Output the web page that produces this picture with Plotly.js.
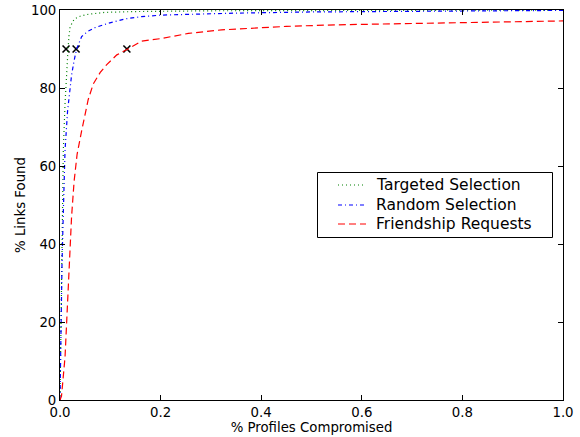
<!DOCTYPE html>
<html>
<head>
<meta charset="utf-8">
<script src="https://cdn.plot.ly/plotly-3.0.1.min.js"></script>
<style>html,body{margin:0;padding:0;background:#fff;}</style>
</head>
<body>
<div id="chart" style="width:580px;height:437px;"></div>
<script>
// Series names
const seriesNames = ["Targeted Selection", "Random Selection", "Friendship Requests"];

// Targeted Selection (green, dotted)
const targetedX = [0, 0.002, 0.004, 0.0066, 0.010, 0.013, 0.016, 0.018, 0.020, 0.025, 0.030, 0.040, 0.056, 0.09, 0.15, 0.3, 0.6, 1.0];
const targetedY = [0, 25, 45, 64, 76, 85, 90, 93.5, 95.5, 97, 97.8, 98.4, 98.9, 99.4, 99.6, 99.8, 99.9, 100];

// Random Selection (blue, dash-dot)
const randomX = [0, 0.002, 0.004, 0.007, 0.010, 0.015, 0.020, 0.023, 0.028, 0.033, 0.043, 0.055, 0.07, 0.096, 0.129, 0.162, 0.202, 0.255, 0.35, 0.5, 0.7, 1.0];
const randomY = [0, 20, 35, 50, 64, 74, 80, 83.3, 87, 90, 93.2, 94.5, 95.5, 96.6, 97.7, 98.3, 98.7, 98.9, 99.2, 99.5, 99.7, 99.9];

// Friendship Requests (red, dashed)
const friendX = [0, 0.003, 0.010, 0.0146, 0.018, 0.023, 0.028, 0.034, 0.043, 0.056, 0.066, 0.080, 0.093, 0.113, 0.135, 0.162, 0.202, 0.255, 0.321, 0.374, 0.45, 0.55, 0.68, 0.85, 1.0];
const friendY = [0, 1, 11, 25, 36, 47, 56, 63, 69, 77, 81, 84, 86, 88.5, 90, 92, 92.7, 94, 94.9, 95.3, 95.8, 96.2, 96.5, 96.9, 97.2];

// 90% markers
const markerX = [0.012, 0.032, 0.133];
const markerY = [90, 90, 90];

// Tick labels
const xTicks = [0, 0.2, 0.4, 0.6, 0.8, 1.0];
const xTickText = ["0.0", "0.2", "0.4", "0.6", "0.8", "1.0"];
const yTicks = [0, 20, 40, 60, 80, 100];
const yTickText = ["0", "20", "40", "60", "80", "100"];

const colors = ["#008000", "#0000ff", "#ff0000"];
const dashes = ["1px,3px", "4px,3px,1px,3px", "7px,4px"];
const FONT = "DejaVu Sans, sans-serif";

const traces = [
  {x: markerX, y: markerY, mode: "markers", showlegend: false, hoverinfo: "skip",
   marker: {symbol: "x-thin", size: 7, color: "#000", line: {color: "#000", width: 1.6}}},
  {x: targetedX, y: targetedY, mode: "lines", name: seriesNames[0],
   line: {color: colors[0], width: 1.2, dash: dashes[0]}},
  {x: randomX, y: randomY, mode: "lines", name: seriesNames[1],
   line: {color: colors[1], width: 1.2, dash: dashes[1]}},
  {x: friendX, y: friendY, mode: "lines", name: seriesNames[2],
   line: {color: colors[2], width: 1.2, dash: dashes[2]}}
];

// Manual legend in pixel terms of the plot area (60..563 x 10..400)
const L = 60, R = 563, T = 10, B = 400;
const px = v => (v - L) / (R - L);
const py = v => (B - v) / (B - T);
const shapes = [
  {type: "rect", xref: "paper", yref: "paper", x0: px(317.5), x1: px(552.5), y0: py(237.5), y1: py(172.5),
   line: {color: "#000", width: 1}, fillcolor: "#fff", layer: "above"}
];
const annotations = [];
const rowY = [185, 205, 224];
for (let i = 0; i < 3; i++) {
  shapes.push({type: "line", xref: "paper", yref: "paper", x0: px(338), x1: px(366), y0: py(rowY[i]), y1: py(rowY[i]),
    line: {color: colors[i], width: 1.2, dash: dashes[i]}, layer: "above"});
  annotations.push({xref: "paper", yref: "paper", x: px(374), y: py(rowY[i]), xanchor: "left", yanchor: "middle",
    text: seriesNames[i], showarrow: false, font: {family: FONT, size: 15.5, color: "#000"}});
}

const axisCommon = {
  showgrid: false, zeroline: false, showline: true, linecolor: "#000", linewidth: 1,
  mirror: "ticks", ticks: "inside", ticklen: 5, tickwidth: 1, tickcolor: "#000",
  tickfont: {family: FONT, size: 13.3, color: "#000"}, tickmode: "array"
};

const layout = {
  width: 580, height: 437,
  margin: {l: 60, r: 17, t: 10, b: 37, pad: 0},
  paper_bgcolor: "#fff", plot_bgcolor: "#fff",
  showlegend: false,
  font: {family: FONT, color: "#000"},
  xaxis: Object.assign({}, axisCommon, {range: [0, 1], tickvals: xTicks, ticktext: xTickText,
    title: {text: "% Profiles Compromised", font: {family: FONT, size: 13.3, color: "#000"}, standoff: 0}}),
  yaxis: Object.assign({}, axisCommon, {range: [0, 100], tickvals: yTicks, ticktext: yTickText,
    title: {text: "% Links Found", font: {family: FONT, size: 13.3, color: "#000"}, standoff: 2}}),
  shapes: shapes,
  annotations: annotations
};

Plotly.newPlot("chart", traces, layout, {staticPlot: true, displayModeBar: false});
</script>
</body>
</html>
